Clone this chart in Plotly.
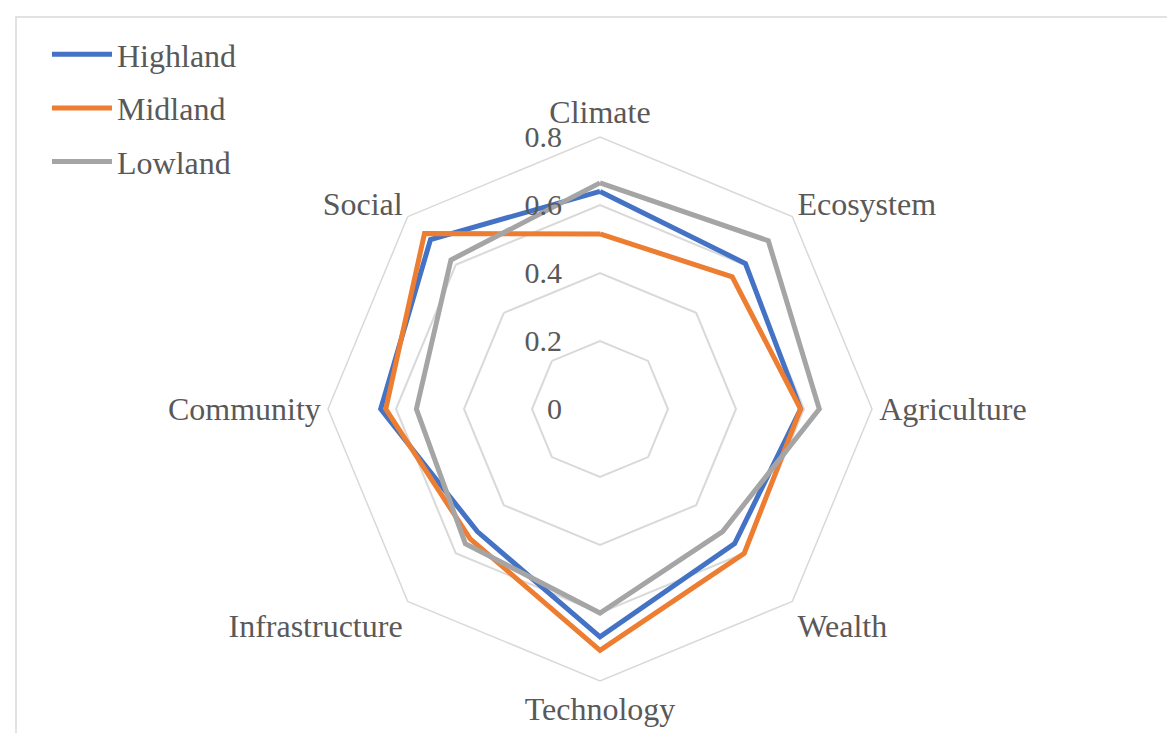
import plotly.graph_objects as go

categories = ["Climate", "Ecosystem", "Agriculture", "Wealth", "Technology",
              "Infrastructure", "Community", "Social"]
highland = [0.64, 0.605, 0.59, 0.56, 0.67, 0.51, 0.645, 0.705]
midland = [0.515, 0.55, 0.59, 0.60, 0.71, 0.54, 0.63, 0.73]
lowland = [0.665, 0.70, 0.645, 0.51, 0.60, 0.56, 0.54, 0.62]
tick_vals = [0, 0.2, 0.4, 0.6, 0.8]
tick_text = ["0", "0.2", "0.4", "0.6", "0.8"]

series = [("Highland", highland, "#4472C4"),
          ("Midland", midland, "#ED7D31"),
          ("Lowland", lowland, "#A5A5A5")]

W, H = 1175, 733
FONT = "Liberation Serif"
TXT = "#595959"
FS = 32

fig = go.Figure()
for name, vals, col in series:
    fig.add_trace(go.Scatterpolar(
        r=vals + vals[:1], theta=categories + categories[:1],
        mode="lines", name=name, legendgroup=name,
        line=dict(color=col, width=5, shape="linear"),
    ))

cx, cy, R = 592, 401, 272
fig.update_layout(
    width=W, height=H,
    margin=dict(l=0, r=0, t=0, b=0),
    paper_bgcolor="white",
    font=dict(family=FONT, size=FS, color=TXT),
    showlegend=True,
    legend=dict(x=39 / W, y=1 - 19 / H, xanchor="left", yanchor="top",
                font=dict(family=FONT, size=FS, color=TXT),
                tracegroupgap=9, itemwidth=60, bgcolor="rgba(0,0,0,0)"),
    polar=dict(
        domain=dict(x=[(cx - R) / W, (cx + R) / W],
                    y=[(H - cy - R) / H, (H - cy + R) / H]),
        bgcolor="white",
        gridshape="linear",
        angularaxis=dict(rotation=90, direction="clockwise",
                         showgrid=False, showline=True, linecolor="#D9D9D9",
                         linewidth=1.5, ticks="",
                         tickfont=dict(family=FONT, size=FS, color=TXT)),
        radialaxis=dict(range=[0, 0.8], tickvals=tick_vals, ticktext=tick_text,
                        angle=90, tickangle=90, side="counterclockwise",
                        showline=False, ticks="outside", ticklen=27,
                        tickcolor="rgba(0,0,0,0)", gridcolor="#D9D9D9",
                        gridwidth=1.5,
                        tickfont=dict(family=FONT, size=FS - 2, color=TXT)),
    ),
    shapes=[dict(type="rect", xref="paper", yref="paper",
                 x0=8 / W, x1=1.02, y0=-0.02, y1=1 - 9 / H,
                 line=dict(color="#D9D9D9", width=1.5), layer="below")],
)
fig.write_html("out.html")
